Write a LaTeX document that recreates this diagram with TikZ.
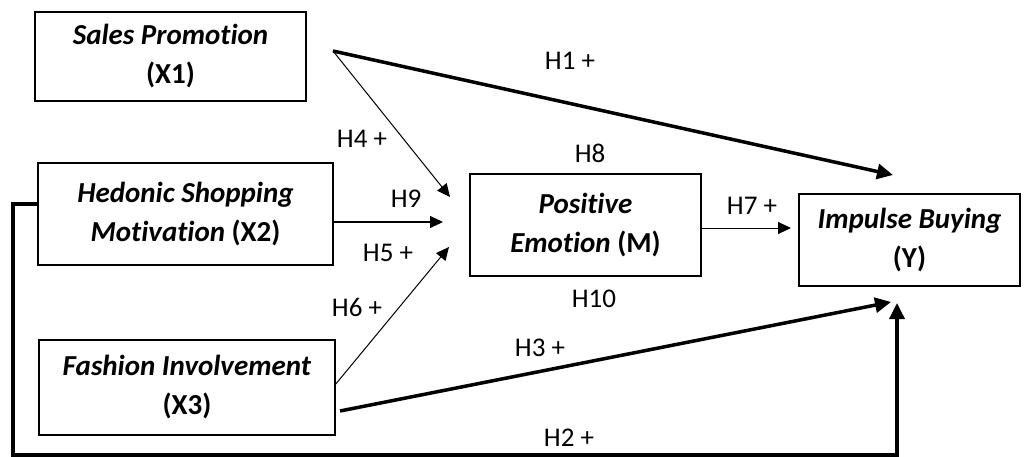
\documentclass[tikz,border=0pt]{standalone}
\usepackage{fontspec}
\setmainfont{Carlito}[Ligatures=CommonOff]
\usetikzlibrary{arrows.meta}

\tikzset{
  varbox/.style={draw, line width=1.6pt, align=center, inner sep=0pt,
    font=\bfseries\fontsize{29}{39}\selectfont},
  hyp/.style={inner sep=0pt, font=\fontsize{27}{30}\selectfont},
  thinarrow/.style={line width=1pt, -{Triangle[length=13pt,width=12pt]}},
  boldarrow/.style={line width=3.5pt, -{Triangle[length=16pt,width=15pt]}},
}

\begin{document}
\begin{tikzpicture}[x=1pt, y=-1pt]
        \useasboundingbox (0,0) rectangle (1033,457);

        \node[varbox, minimum width=271pt, minimum height=89pt] (x1) at (170.5,56.5) {\textit{Sales Promotion}\\(X1)};
        \node[varbox, minimum width=295pt, minimum height=102pt] (x2) at (185.5,214) {\textit{Hedonic Shopping}\\\textit{Motivation} (X2)};
        \node[varbox, minimum width=296pt, minimum height=95pt] (x3) at (187,387.5) {\textit{Fashion Involvement}\\(X3)};
        \node[varbox, minimum width=231pt, minimum height=102pt] (m) at (585.5,225) {\textit{Positive}\\\textit{Emotion} (M)};
        \node[varbox, minimum width=221pt, minimum height=92pt] (y) at (909.5,240) {\textit{Impulse Buying}\\(Y)};

        \coordinate (s1) at (333,51);
        \coordinate (s3) at (340,411);
        \coordinate (e1) at (893,175);
        \coordinate (e4) at (450,197);
        \coordinate (e9) at (443,222);
        \coordinate (e6) at (449,247);
        \coordinate (e7) at (791,228);
        \coordinate (e3) at (891,302);
        \coordinate (e2) at (897,303);
        \coordinate (low) at (13,455);

        \draw[boldarrow] (s1) -- (e1);
        \draw[thinarrow] (s1) -- (e4);
        \draw[thinarrow] ([yshift=-8pt]x2.east) -- (e9);
        \draw[thinarrow] ([yshift=3.5pt]x3.east) -- (e6);
        \draw[thinarrow] ([yshift=-3pt]m.east) -- (e7);
        \draw[boldarrow] (s3) -- (e3);
        \draw[boldarrow] ([yshift=10pt]x2.west) -| (low) -| (e2);

        \node[hyp] (h1) at (570,61) {H1 +};
        \node[hyp] (h4) at (362,139) {H4 +};
        \node[hyp] (h9) at (406,199) {H9};
        \node[hyp] (h8) at (590,153) {H8};
        \node[hyp] (h7) at (752,206) {H7 +};
        \node[hyp] (h5) at (388,253) {H5 +};
        \node[hyp] (h6) at (357,307) {H6 +};
        \node[hyp] (h10) at (594,299) {H10};
        \node[hyp] (h3) at (540,348) {H3 +};
        \node[hyp] (h2) at (569,438) {H2 +};
\end{tikzpicture}
\end{document}
